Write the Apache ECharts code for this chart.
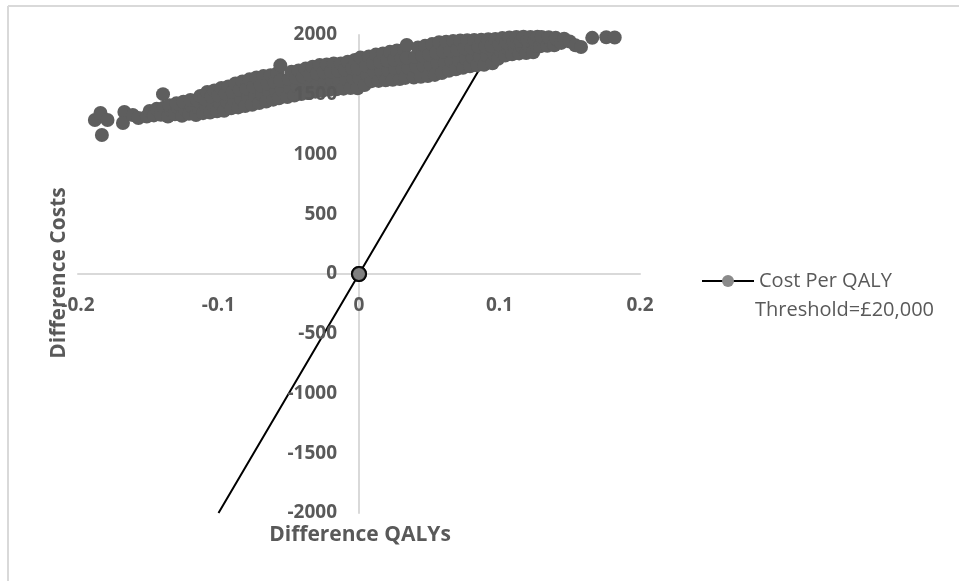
<!DOCTYPE html>
<html>
<head>
<meta charset="utf-8">
<script src="https://cdn.jsdelivr.net/npm/echarts@6/dist/echarts.min.js"></script>
<style>
  html, body { margin: 0; padding: 0; background: #ffffff; }
  #chart { width: 959px; height: 581px; }
</style>
</head>
<body>
<div id="chart"></div>
<script>
// Probabilistic sensitivity analysis draws: [incremental QALYs, incremental cost]
const psaPoints = [
  [-0.188,1289],[-0.184,1347],[-0.179,1289],[-0.183,1163],
  [-0.167,1356],[-0.168,1264],[-0.161,1331],[-0.157,1305],
  [-0.151,1318],[-0.149,1364],
  [-0.146,1327],[-0.144,1382],
  [-0.141,1333],[-0.139,1392],[-0.1395,1505],
  [-0.136,1318],[-0.134,1372],[-0.135,1412],
  [-0.131,1337],[-0.129,1396],[-0.130,1428],
  [-0.126,1324],[-0.124,1381],[-0.125,1442],
  [-0.121,1341],[-0.119,1402],[-0.120,1456],
  [-0.116,1331],[-0.114,1389],[-0.115,1451],[-0.113,1490],
  [-0.111,1346],[-0.109,1411],[-0.110,1468],[-0.108,1524],
  [-0.106,1352],[-0.104,1421],[-0.105,1488],[-0.103,1536],
  [-0.101,1361],[-0.099,1427],[-0.100,1494],[-0.098,1556],
  [-0.096,1366],[-0.094,1441],[-0.095,1511],[-0.093,1569],
  [-0.091,1386],[-0.089,1456],[-0.090,1524],[-0.088,1594],
  [-0.086,1394],[-0.084,1466],[-0.085,1541],[-0.083,1611],
  [-0.081,1406],[-0.079,1477],[-0.080,1553],[-0.078,1629],
  [-0.076,1416],[-0.074,1489],[-0.075,1568],[-0.073,1644],
  [-0.071,1431],[-0.069,1502],[-0.070,1579],[-0.068,1656],
  [-0.066,1444],[-0.064,1516],[-0.065,1594],[-0.063,1664],
  [-0.061,1459],[-0.059,1526],[-0.060,1606],[-0.058,1681],
  [-0.057,1471],[-0.055,1541],[-0.056,1619],[-0.056,1746],
  [-0.051,1481],[-0.049,1556],[-0.050,1631],[-0.048,1692],
  [-0.046,1494],[-0.044,1566],[-0.045,1641],[-0.043,1703],
  [-0.041,1506],[-0.039,1577],[-0.040,1652],[-0.038,1719],
  [-0.036,1514],[-0.034,1586],[-0.035,1664],[-0.033,1734],
  [-0.031,1526],[-0.029,1599],[-0.030,1678],[-0.028,1748],
  [-0.026,1534],[-0.024,1611],[-0.025,1689],[-0.023,1754],
  [-0.021,1541],[-0.019,1616],[-0.020,1694],[-0.018,1761],
  [-0.016,1546],[-0.014,1624],[-0.015,1702],[-0.013,1762],
  [-0.011,1551],[-0.009,1632],[-0.010,1709],[-0.008,1776],
  [-0.006,1557],[-0.004,1638],[-0.005,1721],[-0.003,1791],
  [-0.001,1554],[0.000,1642],[-0.001,1722],[0.001,1811],
  [0.004,1581],[0.006,1661],[0.005,1741],[0.007,1821],
  [0.009,1614],[0.011,1689],[0.010,1766],[0.012,1836],
  [0.014,1616],[0.016,1696],[0.015,1774],[0.017,1846],
  [0.019,1621],[0.021,1702],[0.020,1786],[0.022,1859],
  [0.024,1626],[0.026,1709],[0.025,1794],[0.027,1871],
  [0.029,1631],[0.031,1716],[0.030,1801],[0.032,1879],
  [0.033,1641],[0.035,1724],[0.034,1811],[0.034,1916],
  [0.039,1644],[0.041,1731],[0.040,1816],[0.042,1896],
  [0.044,1651],[0.046,1741],[0.045,1826],[0.047,1909],
  [0.049,1656],[0.051,1749],[0.050,1836],[0.052,1924],
  [0.054,1666],[0.056,1761],[0.055,1851],[0.057,1939],
  [0.059,1681],[0.061,1769],[0.060,1861],[0.062,1944],
  [0.064,1701],[0.066,1781],[0.065,1869],[0.067,1949],
  [0.069,1714],[0.071,1791],[0.070,1879],[0.072,1954],
  [0.074,1726],[0.076,1801],[0.075,1889],[0.077,1956],
  [0.079,1739],[0.081,1811],[0.080,1894],[0.082,1959],
  [0.084,1746],[0.086,1821],[0.085,1901],[0.087,1961],
  [0.089,1751],[0.091,1829],[0.090,1906],[0.092,1964],
  [0.095,1764],[0.096,1841],[0.094,1911],[0.097,1966],
  [0.099,1801],[0.101,1861],[0.100,1921],[0.102,1974],
  [0.104,1829],[0.106,1886],[0.105,1936],[0.107,1979],
  [0.109,1839],[0.111,1894],[0.110,1946],[0.112,1984],
  [0.114,1846],[0.116,1901],[0.115,1951],[0.117,1986],
  [0.119,1849],[0.121,1904],[0.120,1956],[0.122,1984],
  [0.124,1856],[0.126,1911],[0.125,1959],[0.127,1986],
  [0.129,1906],[0.131,1951],[0.130,1984],
  [0.134,1909],[0.136,1956],[0.135,1981],
  [0.139,1914],[0.141,1961],[0.140,1976],
  [0.144,1934],[0.146,1969],
  [0.150,1946],[0.154,1914],[0.158,1899],
  [0.166,1976],[0.176,1981],[0.182,1979]
];

// Willingness-to-pay line: £20,000 per QALY through the origin
const thresholdQalys = [-0.1, 0, 0.1];
const thresholdCosts = [-2000, 0, 2000];
const thresholdName = 'Cost Per QALY Threshold=£20,000';
const legendLines = ['Cost Per QALY', 'Threshold=£20,000'];

// Axis ranges and tick steps
const qalyAxis = { min: -0.2, max: 0.2, step: 0.1 };
const costAxis = { min: -2000, max: 2000, step: 500 };

const axisTitleX = 'Difference QALYs';
const axisTitleY = 'Difference Costs';

const labelGrey = '#595959';
const axisGrey = '#d9d9d9';
const fontFace = '"Open Sans", "Liberation Sans", sans-serif';

// Plot box (pixels) and where the zero lines fall inside it
const plot = { left: 78, right: 319, top: 35, bottom: 68 };
const zeroShiftX = -281;   // y axis moved from the left edge to QALY = 0
const zeroShiftY = -239;   // x axis moved from the bottom edge to cost = 0

const thresholdData = thresholdQalys.map((q, i) => {
  const item = { value: [q, thresholdCosts[i]] };
  if (q !== 0) item.symbol = 'none';
  return item;
});

const tickLabel = {
  color: labelGrey, fontWeight: 'bold', fontSize: 19, fontFamily: fontFace
};

const chart = echarts.init(document.getElementById('chart'), null, { renderer: 'canvas' });

chart.setOption({
  animation: false,
  backgroundColor: '#ffffff',
  grid: { left: plot.left, right: plot.right, top: plot.top, bottom: plot.bottom, containLabel: false },
  xAxis: {
    type: 'value',
    position: 'bottom',
    offset: zeroShiftY,
    min: qalyAxis.min, max: qalyAxis.max, interval: qalyAxis.step,
    axisLine: { show: true, onZero: false, lineStyle: { color: axisGrey, width: 2 } },
    axisTick: { show: false },
    splitLine: { show: false },
    axisLabel: Object.assign({ margin: 22, formatter: v => String(Math.round(v * 10) / 10) }, tickLabel)
  },
  yAxis: [
    {
      // axis line only, kept beneath the points
      type: 'value',
      position: 'left',
      offset: zeroShiftX,
      min: costAxis.min, max: costAxis.max, interval: costAxis.step,
      axisLine: { show: true, onZero: false, lineStyle: { color: axisGrey, width: 2 } },
      axisTick: { show: false },
      splitLine: { show: false },
      axisLabel: { show: false }
    },
    {
      // tick labels, drawn over the points
      type: 'value',
      position: 'left',
      offset: zeroShiftX,
      z: 5,
      min: costAxis.min, max: costAxis.max, interval: costAxis.step,
      axisLine: { show: false, onZero: false },
      axisTick: { show: false },
      splitLine: { show: false },
      axisLabel: Object.assign({ margin: 22, formatter: v => String(v) }, tickLabel)
    }
  ],
  legend: {
    data: [thresholdName],
    left: 696, top: 266,
    itemWidth: 52, itemHeight: 15,
    itemStyle: { color: '#8a8a8a', borderWidth: 0 },
    formatter: () => legendLines[0],
    textStyle: {
      color: labelGrey, fontSize: 20, fontFamily: fontFace, padding: [0, 0, 0, 0]
    }
  },
  series: [
    {
      name: thresholdName,
      type: 'line',
      z: 1,
      data: thresholdData,
      symbol: 'circle',
      symbolSize: 14,
      showAllSymbol: true,
      lineStyle: { color: '#000000', width: 2 },
      itemStyle: { color: '#808080', borderColor: '#000000', borderWidth: 2 }
    },
    {
      name: 'PSA draws',
      type: 'scatter',
      z: 2,
      data: psaPoints,
      symbol: 'circle',
      symbolSize: 14,
      itemStyle: { color: '#5e5e5e', opacity: 1 }
    },
    {
      name: 'origin',
      type: 'scatter',
      z: 3,
      data: [[thresholdQalys[1], thresholdCosts[1]]],
      symbol: 'circle',
      symbolSize: 14,
      itemStyle: { color: '#808080', borderColor: '#000000', borderWidth: 2 }
    }
  ],
  graphic: [
    { type: 'line', shape: { x1: 8, y1: 6, x2: 959, y2: 6 }, style: { stroke: axisGrey, lineWidth: 2 }, silent: true },
    { type: 'line', shape: { x1: 8, y1: 6, x2: 8, y2: 581 }, style: { stroke: axisGrey, lineWidth: 2 }, silent: true },
    {
      type: 'text', x: 755, y: 310,
      style: { text: legendLines[1], fill: labelGrey, font: '20px ' + fontFace, textVerticalAlign: 'middle' }
    },
    {
      type: 'text', x: 360, y: 535,
      style: { text: axisTitleX, fill: labelGrey, font: 'bold 21px ' + fontFace, textAlign: 'center', textVerticalAlign: 'middle' }
    },
    {
      type: 'text', x: 59, y: 273, rotation: Math.PI / 2,
      style: { text: axisTitleY, fill: labelGrey, font: 'bold 21px ' + fontFace, textAlign: 'center', textVerticalAlign: 'middle' }
    }
  ]
});
</script>
</body>
</html>
